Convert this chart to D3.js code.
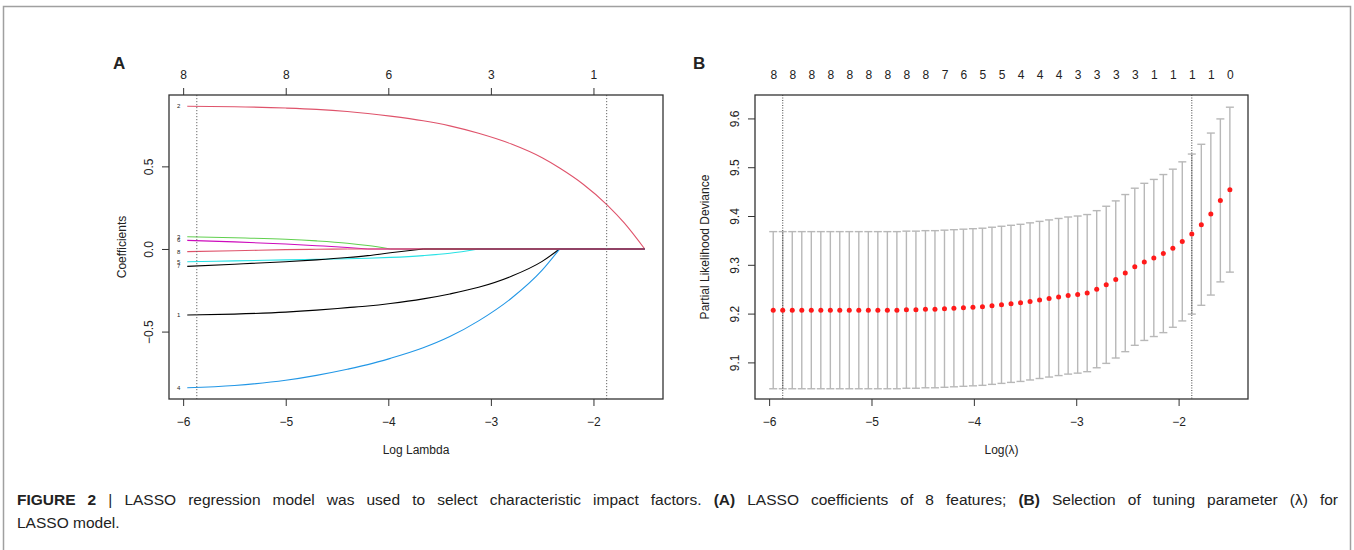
<!DOCTYPE html>
<html>
<head>
<meta charset="utf-8">
<script src="https://cdn.jsdelivr.net/npm/d3@7"></script>
<style>
    body { margin: 0; background: #fff; }
    text { font-family: "Liberation Sans", Arial, Helvetica, sans-serif; fill: #222; }
</style>
</head>
<body>
<svg id="fig" width="1354" height="550"></svg>
<script>

/* ---- panel A: coefficient paths ---- */
const gridA = [-5.96, -5.5, -5.0, -4.7, -4.4, -4.2, -3.98, -3.66, -3.4, -3.12, -2.8, -2.5, -2.33, -2.1, -1.865, -1.7, -1.5];
const coef1 = [-0.400, -0.394, -0.382, -0.370, -0.355, -0.345, -0.330, -0.302, -0.272, -0.232, -0.165, -0.075, 0, 0, 0, 0, 0];
const coef2 = [0.864, 0.861, 0.853, 0.845, 0.832, 0.820, 0.804, 0.776, 0.745, 0.700, 0.635, 0.552, 0.490, 0.392, 0.266, 0.158, 0];
const coef3 = [0.074, 0.068, 0.059, 0.049, 0.035, 0.021, 0, 0, 0, 0, 0, 0, 0, 0, 0, 0, 0];
const coef4 = [-0.840, -0.826, -0.795, -0.765, -0.728, -0.700, -0.662, -0.598, -0.530, -0.435, -0.298, -0.128, 0, 0, 0, 0, 0];
const coef5 = [-0.077, -0.072, -0.066, -0.063, -0.059, -0.056, -0.051, -0.040, -0.026, 0, 0, 0, 0, 0, 0, 0, 0];
const coef6 = [0.052, 0.043, 0.030, 0.020, 0.009, 0, 0, 0, 0, 0, 0, 0, 0, 0, 0, 0, 0];
const coef7 = [-0.105, -0.092, -0.077, -0.066, -0.052, -0.040, -0.023, 0, 0, 0, 0, 0, 0, 0, 0, 0, 0];
const coef8 = [-0.016, -0.011, -0.004, -0.002, 0, 0, 0, 0, 0, 0, 0, 0, 0, 0, 0, 0, 0];
const varNames = ["1", "2", "3", "4", "5", "6", "7", "8"];
const topLabelsA = [8, 8, 6, 3, 1];

/* ---- panel B: cross-validation curve ---- */
const logLambdaB = [-5.960, -5.867, -5.774, -5.681, -5.588, -5.495, -5.402, -5.310, -5.217, -5.124,
    -5.031, -4.938, -4.845, -4.752, -4.659, -4.566, -4.473, -4.380, -4.287, -4.195,
    -4.102, -4.009, -3.916, -3.823, -3.730, -3.637, -3.544, -3.451, -3.358, -3.265,
    -3.172, -3.079, -2.986, -2.893, -2.800, -2.707, -2.614, -2.521, -2.428, -2.335,
    -2.242, -2.149, -2.056, -1.964, -1.871, -1.778, -1.685, -1.592, -1.499];
const cvMean = [9.207, 9.207, 9.207, 9.207, 9.207, 9.207, 9.207, 9.207, 9.207, 9.207,
    9.207, 9.207, 9.207, 9.207, 9.208, 9.208, 9.209, 9.209, 9.210, 9.211,
    9.212, 9.213, 9.214, 9.216, 9.218, 9.220, 9.222, 9.225, 9.228, 9.231,
    9.234, 9.237, 9.239, 9.242, 9.250, 9.259, 9.270, 9.283, 9.296, 9.306,
    9.314, 9.323, 9.334, 9.348, 9.363, 9.382, 9.404, 9.432, 9.454];
const cvSE = [0.161, 0.161, 0.161, 0.161, 0.161, 0.161, 0.161, 0.161, 0.161, 0.161,
    0.161, 0.161, 0.161, 0.161, 0.161, 0.161, 0.161, 0.161, 0.161, 0.161,
    0.161, 0.161, 0.161, 0.161, 0.161, 0.161, 0.161, 0.161, 0.161, 0.161,
    0.161, 0.161, 0.161, 0.161, 0.161, 0.161, 0.161, 0.161, 0.161, 0.161,
    0.161, 0.162, 0.162, 0.163, 0.164, 0.165, 0.166, 0.167, 0.169];
const nzeroB = [8, 8, 8, 8, 8, 8, 8, 8, 8, 7, 6, 5, 5, 4, 4, 4, 3, 3, 3, 3, 1, 1, 1, 1, 0];
const lambdaMin = -5.867;
const lambda1se = -1.871;

/* shared ticks */
const xTicks = [-6, -5, -4, -3, -2];
const yTicksA = [-0.5, 0, 0.5];
const yTicksB = [9.1, 9.2, 9.3, 9.4, 9.5, 9.6];

/* styles */
const lineColors = ["#000000", "#DF536B", "#61D04F", "#2297E6", "#28E2E5", "#CD0BBC", "#000000", "#DF536B"];
const axisColor = "#333";
const fmt = d3.format(".1f");

const svg = d3.select("#fig");

/* outer figure frame (top and sides) */
svg.append("path")
    .attr("d", "M3.5,550 V6.5 H1350.5 V550")
    .attr("fill", "none")
    .attr("stroke", "#a0a0a0")
    .attr("stroke-width", 1.5);

function styleAxis(g) {
    g.select(".domain").remove();
    g.selectAll("line").attr("stroke", axisColor);
    g.selectAll("text").attr("font-size", 12).attr("fill", "#222");
}

function panel(box, xDomain, yDomain, yTicks, yTitle, xTitle, titleOffset) {
    const x = d3.scaleLinear().domain(xDomain).range([box.left, box.right]);
    const y = d3.scaleLinear().domain(yDomain).range([box.bottom, box.top]);
    const g = svg.append("g");

    const xAxis = d3.axisBottom(x).tickValues(xTicks).tickSize(7).tickPadding(11)
        .tickFormat(d3.format("d"));
    g.append("g").attr("transform", "translate(0," + box.bottom + ")")
        .call(xAxis).call(styleAxis)
        .attr("font-family", null);

    const yAxis = d3.axisLeft(y).tickValues(yTicks).tickSize(7).tickFormat(fmt);
    const ya = g.append("g").attr("transform", "translate(" + box.left + ",0)")
        .call(yAxis).call(styleAxis);
    ya.selectAll("text")
        .attr("transform", "rotate(-90)")
        .attr("x", 0).attr("y", -16).attr("dy", 0)
        .attr("text-anchor", "middle");
    ya.attr("font-family", null);

    g.append("text")
        .attr("x", (box.left + box.right) / 2).attr("y", 454)
        .attr("text-anchor", "middle").attr("font-size", 12)
        .text(xTitle);
    g.append("text")
        .attr("transform", "translate(" + (box.left - titleOffset) + "," + ((box.top + box.bottom) / 2) + ") rotate(-90)")
        .attr("text-anchor", "middle").attr("font-size", 12)
        .text(yTitle);

    return {x, y, g};
}

/* ================= panel A ================= */
const boxA = {left: 169, right: 663, top: 95, bottom: 399};
const A = panel(boxA, [-6.138, -1.322], [-0.908, 0.932], yTicksA, "Coefficients", "Log Lambda", 43.5);

const topAxisA = d3.axisTop(A.x).tickValues(xTicks).tickSize(7).tickPadding(9)
    .tickFormat((d, i) => topLabelsA[i]);
A.g.append("g").attr("transform", "translate(0," + boxA.top + ")")
    .call(topAxisA).call(styleAxis).attr("font-family", null);

const coefs = [coef1, coef2, coef3, coef4, coef5, coef6, coef7, coef8];
const smooth = d3.line().x(d => A.x(d[0])).y(d => A.y(d[1])).curve(d3.curveMonotoneX);
const straight = d3.line().x(d => A.x(d[0])).y(d => A.y(d[1]));

coefs.forEach(function (c, i) {
    const iz = c.indexOf(0);
    const active = gridA.slice(0, iz + 1).map((v, j) => [v, c[j]]);
    const rest = [[gridA[iz], 0], [gridA[gridA.length - 1], 0]];
    A.g.append("path").attr("d", smooth(active))
        .attr("fill", "none").attr("stroke", lineColors[i]).attr("stroke-width", 1.1);
    A.g.append("path").attr("d", straight(rest))
        .attr("fill", "none").attr("stroke", lineColors[i]).attr("stroke-width", 1.1);
});

A.g.selectAll(".vlab").data(coefs).enter()
    .append("text")
    .attr("x", A.x(gridA[0]) - 7)
    .attr("y", d => A.y(d[0]) + 2)
    .attr("text-anchor", "end")
    .attr("font-size", 6)
    .text((d, i) => varNames[i]);

[lambdaMin, lambda1se].forEach(function (v) {
    A.g.append("line")
        .attr("x1", A.x(v)).attr("x2", A.x(v))
        .attr("y1", boxA.top).attr("y2", boxA.bottom)
        .attr("stroke", "#666").attr("stroke-width", 1)
        .attr("stroke-dasharray", "1.2,1.8");
});

A.g.append("rect")
    .attr("x", boxA.left).attr("y", boxA.top)
    .attr("width", boxA.right - boxA.left).attr("height", boxA.bottom - boxA.top)
    .attr("fill", "none").attr("stroke", axisColor).attr("stroke-width", 1.3);

/* ================= panel B ================= */
const boxB = {left: 755, right: 1248, top: 95, bottom: 399};
const B = panel(boxB, [-6.138, -1.322], [9.025, 9.648], yTicksB, "Partial Likelihood Deviance", "Log(\u03bb)", 46.5);

const topTicksB = logLambdaB.filter((d, i) => i % 2 === 0);
const topAxisB = d3.axisTop(B.x).tickValues(topTicksB).tickSize(0).tickPadding(16)
    .tickFormat((d, i) => nzeroB[i]);
B.g.append("g").attr("transform", "translate(0," + boxB.top + ")")
    .call(topAxisB).call(styleAxis).attr("font-family", null);

const cv = logLambdaB.map((v, i) => ({x: v, m: cvMean[i], lo: cvMean[i] - cvSE[i], hi: cvMean[i] + cvSE[i]}));
const cap = 4;
const bars = B.g.selectAll(".bar").data(cv).enter().append("g")
    .attr("stroke", "#b8b8b8").attr("stroke-width", 1.4);
bars.append("line")
    .attr("x1", d => B.x(d.x)).attr("x2", d => B.x(d.x))
    .attr("y1", d => B.y(d.lo)).attr("y2", d => B.y(d.hi));
bars.append("line")
    .attr("x1", d => B.x(d.x) - cap).attr("x2", d => B.x(d.x) + cap)
    .attr("y1", d => B.y(d.hi)).attr("y2", d => B.y(d.hi));
bars.append("line")
    .attr("x1", d => B.x(d.x) - cap).attr("x2", d => B.x(d.x) + cap)
    .attr("y1", d => B.y(d.lo)).attr("y2", d => B.y(d.lo));

[lambdaMin, lambda1se].forEach(function (v) {
    B.g.append("line")
        .attr("x1", B.x(v)).attr("x2", B.x(v))
        .attr("y1", boxB.top).attr("y2", boxB.bottom)
        .attr("stroke", "#444").attr("stroke-width", 1)
        .attr("stroke-dasharray", "1,1.5");
});

B.g.selectAll(".pt").data(cv).enter().append("circle")
    .attr("cx", d => B.x(d.x)).attr("cy", d => B.y(d.m))
    .attr("r", 2.5).attr("fill", "#ff1a1a");

B.g.append("rect")
    .attr("x", boxB.left).attr("y", boxB.top)
    .attr("width", boxB.right - boxB.left).attr("height", boxB.bottom - boxB.top)
    .attr("fill", "none").attr("stroke", axisColor).attr("stroke-width", 1.3);

/* panel letters */
svg.append("text").attr("x", 113).attr("y", 69).attr("font-size", 17).attr("font-weight", "bold").text("A");
svg.append("text").attr("x", 693).attr("y", 69).attr("font-size", 17).attr("font-weight", "bold").text("B");

/* caption: first line justified to the full width */
const capSize = 15.5;
const cap1 = svg.append("text").attr("x", 17).attr("y", 505).attr("font-size", capSize).attr("fill", "#231f20");
cap1.append("tspan").attr("font-weight", "bold").text("FIGURE 2");
cap1.append("tspan").text(" | LASSO regression model was used to select characteristic impact factors. ");
cap1.append("tspan").attr("font-weight", "bold").text("(A)");
cap1.append("tspan").text(" LASSO coefficients of 8 features; ");
cap1.append("tspan").attr("font-weight", "bold").text("(B)");
cap1.append("tspan").text(" Selection of tuning parameter (\u03bb) for");
const natural = cap1.node().getComputedTextLength();
const spaces = (cap1.text().match(/ /g) || []).length;
cap1.attr("word-spacing", Math.max(0, (1321 - natural) / spaces));
svg.append("text").attr("x", 17).attr("y", 528).attr("font-size", capSize).attr("fill", "#231f20")
    .text("LASSO model.");

</script>
</body>
</html>
